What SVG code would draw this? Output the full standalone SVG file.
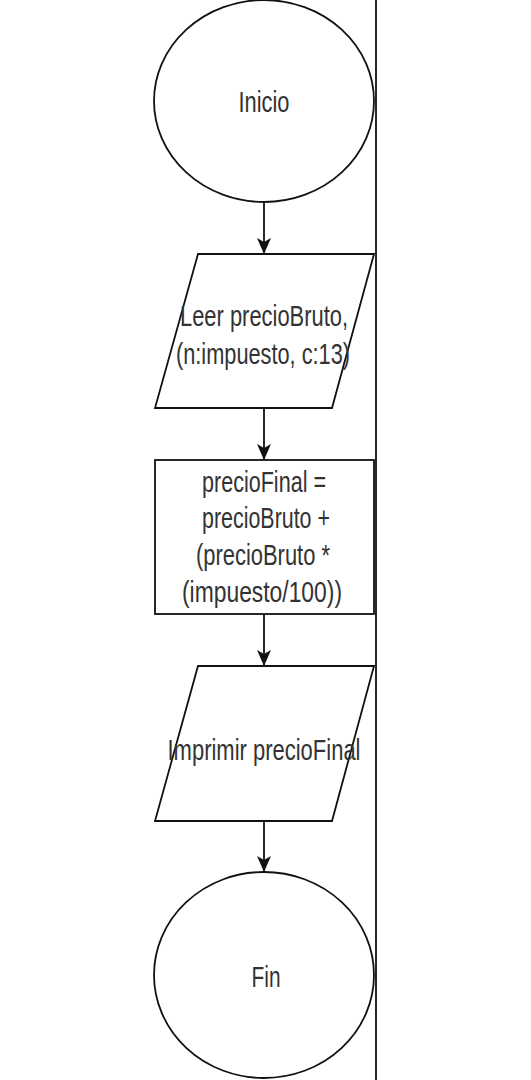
<svg xmlns="http://www.w3.org/2000/svg" width="531" height="1080" viewBox="0 0 531 1080">
<style>
.s{fill:#fff;stroke:#111;stroke-width:1.8}
.t{font-family:"Liberation Sans",Arial,sans-serif;font-size:29px;fill:#333;text-anchor:middle}
.c{stroke:#111;stroke-width:1.8;fill:none}
</style>
<defs>
<marker id="ah" markerUnits="userSpaceOnUse" markerWidth="16" markerHeight="16" viewBox="0 0 16 14" refX="16" refY="7" orient="auto">
<path d="M0,0 L16,7 L0,14 L4,7 z" fill="#111"/>
</marker>
</defs>
<rect width="531" height="1080" fill="#fff"/>
<line x1="376" y1="0" x2="376" y2="1080" stroke="#111" stroke-width="1.8"/>
<g id="connectors">
<line class="c" x1="264" y1="202" x2="264" y2="254" marker-end="url(#ah)"/>
<line class="c" x1="264" y1="408" x2="264" y2="460" marker-end="url(#ah)"/>
<line class="c" x1="264" y1="614" x2="264" y2="666" marker-end="url(#ah)"/>
<line class="c" x1="264" y1="821" x2="264" y2="872" marker-end="url(#ah)"/>
</g>
<g id="inicio">
<ellipse class="s" cx="264" cy="101" rx="110" ry="101"/>
<text class="t" x="264" y="112" textLength="51" lengthAdjust="spacingAndGlyphs">Inicio</text>
</g>
<g id="leer">
<polygon class="s" points="198,254 374,254 332,408 155,408"/>
<text class="t" x="264" y="326" textLength="168" lengthAdjust="spacingAndGlyphs">Leer precioBruto,</text>
<text class="t" x="263" y="364" textLength="174" lengthAdjust="spacingAndGlyphs">(n:impuesto, c:13)</text>
</g>
<g id="calculo">
<rect class="s" x="155" y="460" width="219" height="154"/>
<text class="t" x="264" y="492" textLength="124" lengthAdjust="spacingAndGlyphs">precioFinal =</text>
<text class="t" x="266" y="528" textLength="128" lengthAdjust="spacingAndGlyphs">precioBruto +</text>
<text class="t" x="263" y="565" textLength="134" lengthAdjust="spacingAndGlyphs">(precioBruto *</text>
<text class="t" x="262" y="602" textLength="160" lengthAdjust="spacingAndGlyphs">(impuesto/100))</text>
</g>
<g id="imprimir">
<polygon class="s" points="198,666 374,666 332,821 155,821"/>
<text class="t" x="264" y="760" textLength="193" lengthAdjust="spacingAndGlyphs">Imprimir precioFinal</text>
</g>
<g id="fin">
<ellipse class="s" cx="264" cy="975" rx="110" ry="103"/>
<text class="t" x="266" y="987" textLength="29" lengthAdjust="spacingAndGlyphs">Fin</text>
</g>
</svg>
